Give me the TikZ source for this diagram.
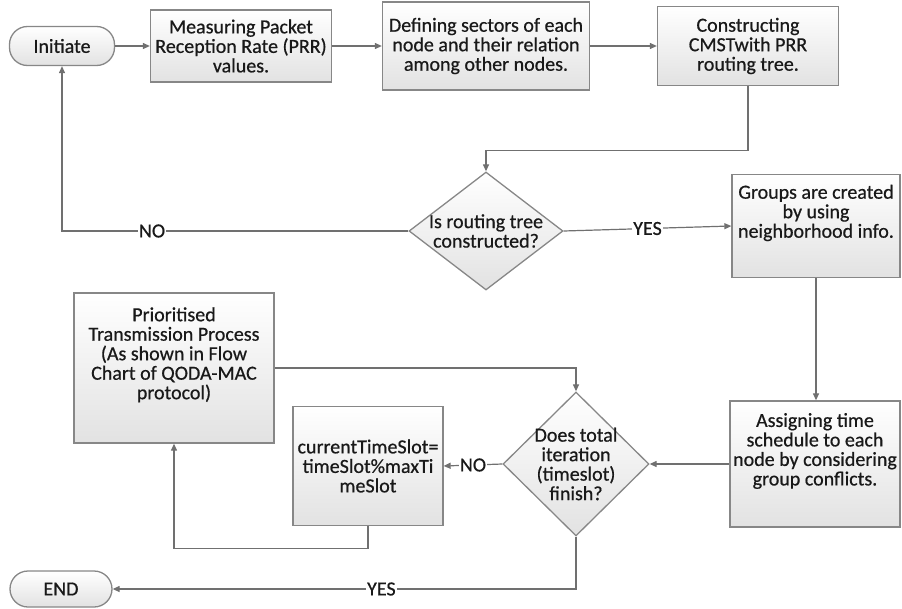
\documentclass[tikz,border=0pt]{standalone}
\usepackage{fontspec}
\setmainfont{Carlito}[FakeBold=0.6]
\usepackage{tikz}
\usetikzlibrary{shapes.geometric,arrows.meta}

\definecolor{linegray}{RGB}{112,112,112}
\definecolor{edgegray}{RGB}{135,135,135}
\definecolor{fillgray}{RGB}{226,226,226}
\definecolor{textgray}{RGB}{25,25,25}

\newcommand{\lift}{\\[10pt]\mbox{}}

\tikzset{
  chart/.style={font=\fontsize{20}{19.5}\selectfont,text=textgray},
  procbox/.style={chart,rectangle,draw=edgegray,line width=1.3pt,top color=white,bottom color=fillgray,align=center,inner sep=2pt},
  terminal/.style={chart,rectangle,rounded corners=18pt,draw=edgegray,line width=1.3pt,top color=white,bottom color=fillgray},
  decision/.style={diamond,draw=edgegray,line width=1.3pt,top color=white,bottom color=fillgray,inner sep=0pt},
  dtext/.style={chart,align=center},
  flow/.style={draw=linegray,line width=1.2pt,-{Triangle[length=7pt,width=6pt]}},
  answer/.style={chart,fill=white,inner sep=1pt}
}

\begin{document}
\begin{tikzpicture}[x=1pt,y=-1pt]
\useasboundingbox (0,0) rectangle (902,608);
\node (init) at (62,46) [terminal,minimum width=105pt,minimum height=39pt] {Initiate};
\node (measure) at (241,46) [procbox,minimum width=181pt,minimum height=72pt] {Measuring Packet\\Reception Rate (PRR)\\values.};
\node (sectors) at (486,46) [procbox,minimum width=207pt,minimum height=88pt] {Defining sectors of each\\node and their relation\\among other nodes.};
\node (cmst) at (748,46) [procbox,minimum width=181pt,minimum height=79pt] {Constructing\\CMSTwith PRR\\routing tree.};
\node (built) at (486,231) [decision,minimum width=154pt,minimum height=118pt,
  label={[dtext]center:Is routing tree\\constructed?}] {};
\node (groups) at (816,226) [procbox,minimum width=168pt,minimum height=103pt] {Groups are created\\by using\\neighborhood info.\lift};
\node (assign) at (815,464) [procbox,minimum width=170pt,minimum height=126pt] {Assigning time\\schedule to each\\node by considering\\group conflicts.\lift};
\node (finish) at (576,464) [decision,minimum width=146pt,minimum height=144pt,
  label={[dtext]center:Does total\\iteration\\(timeslot)\\finish?}] {};
\node (slot) at (368,466) [procbox,minimum width=150pt,minimum height=119pt] {currentTimeSlot=\\timeSlot\%maxTi\\meSlot};
\node (prior) at (174,368) [procbox,minimum width=200pt,minimum height=150pt] {Prioritised\\Transmission Process\\(As shown in Flow\\Chart of QODA-MAC\\protocol)\lift};
\node (stop) at (61,589) [terminal,minimum width=102pt,minimum height=36pt] {END};

\draw [flow] (init) -- (measure);
\draw [flow] (measure) -- (sectors);
\draw [flow] (sectors) -- (cmst);
\draw [flow] (cmst.south) -- ++(0,64) -| (built.north);
\draw [flow] (built.west) -| node[answer,pos=0.37] {NO} (init.south);
\draw [flow] (built.east) -- node[answer] {YES} (groups.west);
\draw [flow] (groups.south) -- (groups.south |- assign.north);
\draw [flow] (assign.west) -- (finish.east);
\draw [flow] (finish.west) -- node[answer] {NO} (slot.east);
\draw [flow] (slot.south) -- ++(0,22) -| (prior.south);
\draw [flow] (prior.east) -| (finish.north);
\draw [flow] (finish.south) |- node[answer,pos=0.71] {YES} (stop.east);
\end{tikzpicture}
\end{document}
